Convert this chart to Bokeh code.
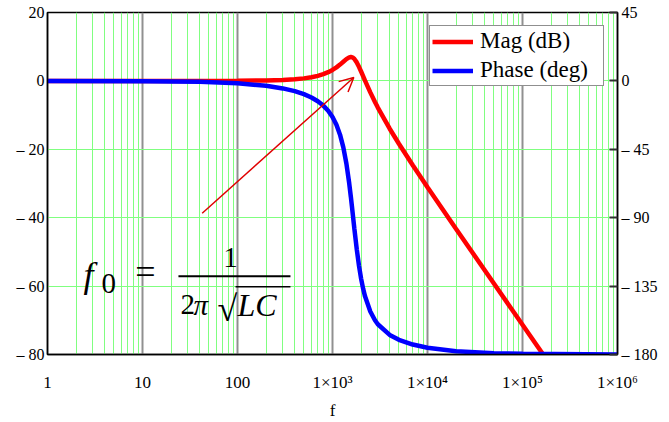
from bokeh.plotting import figure
from bokeh.models import (Range1d, LinearAxis, FixedTicker, Legend, LegendItem,
                          Label, Arrow, OpenHead)
from bokeh.embed import file_html
from bokeh.resources import INLINE

# ---------------- data ----------------
mag_freq = [1, 40, 100, 200, 300, 400, 500, 600, 700, 800, 900, 1000, 1100, 1200,
            1300, 1400, 1500, 1560, 1600, 1650, 1700, 1800, 1900, 2000, 2100, 2200,
            2500, 2800, 3000, 4000, 5000, 7000, 10000, 20000, 50000, 100000, 165000]
mag_db = [0.0, 0.0, 0.03, 0.12, 0.26, 0.47, 0.74, 1.07, 1.48, 1.97, 2.55, 3.21, 3.95, 4.77,
          5.60, 6.37, 6.88, 6.98, 6.93, 6.75, 6.41, 5.41, 4.12, 2.75, 1.38, 0.08,
          -3.35, -6.17, -7.79, -13.98, -18.38, -24.67, -31.09, -43.29, -59.25, -71.30, -80.0]

phase_freq = [1, 10, 40, 100, 200, 300, 400, 500, 600, 700, 800, 900, 1000, 1100, 1200,
              1300, 1400, 1500, 1560, 1600, 1650, 1700, 1800, 1900, 2000, 2100, 2200,
              2500, 2800, 3000, 4000, 5000, 7000, 10000, 20000, 50000, 100000, 1000000]
phase_deg = [0.0, -0.16, -0.64, -1.60, -3.24, -4.94, -6.76, -8.73, -10.91, -13.39, -16.25,
             -19.66, -23.78, -28.89, -35.37, -43.70, -54.34, -67.46, -76.29, -82.38, -90.0,
             -97.39, -110.74, -121.61, -130.08, -136.63, -141.75, -151.72, -157.45, -160.07,
             -167.12, -170.33, -173.45, -175.54, -177.81, -179.13, -179.56, -179.96]

x_ticks = [1, 10, 100, 1000, 10000, 100000, 1000000]
x_tick_labels = ["1", "10", "100", "1×10³", "1×10⁴", "1×10⁵", "1×10⁶"]
x_minor_ticks = [m * 10 ** k for k in range(6) for m in range(2, 10)]
y_ticks = [20, 0, -20, -40, -60, -80]
y_tick_labels = ["20", "0", "– 20", "– 40", "– 60", "– 80"]
phase_ticks = [45, 0, -45, -90, -135, -180]
phase_tick_labels = ["45", "0", "– 45", "– 90", "– 135", "– 180"]
legend_labels = ["Mag (dB)", "Phase (deg)"]

# annotation positions (data coordinates)
arrow_start = (42.5, -38.7)
arrow_end = (1675, 1.0)

FONT = "Liberation Serif"
GREEN = "#80ff80"

p = figure(width=669, height=422, x_axis_type="log", x_range=(1, 1e6), y_range=(-80, 20),
           output_backend="svg", toolbar_location=None,
           min_border_left=47, min_border_right=52, min_border_top=12, min_border_bottom=68,
           background_fill_color="white", border_fill_color="white")
p.outline_line_color = "black"
p.outline_line_width = 1.5

# left axis
ly = p.yaxis[0]
ly.ticker = FixedTicker(ticks=y_ticks)
ly.major_label_overrides = dict(zip(y_ticks, y_tick_labels))
ly.major_tick_in = 0
ly.major_tick_out = 0
ly.minor_tick_in = 0
ly.minor_tick_out = 0
ly.major_label_standoff = 3
ly.axis_line_color = "black"
ly.axis_line_width = 1.5
ly.major_label_text_font = FONT
ly.major_label_text_font_size = "16px"
ly.major_label_text_color = "black"

# bottom axis
bx = p.xaxis[0]
bx.ticker = FixedTicker(ticks=x_ticks, minor_ticks=x_minor_ticks)
bx.major_label_overrides = dict(zip(x_ticks, x_tick_labels))
bx.major_tick_in = 0
bx.major_tick_out = 0
bx.minor_tick_in = 0
bx.minor_tick_out = 0
bx.major_label_standoff = 18
bx.axis_line_color = "black"
bx.axis_line_width = 1.5
bx.major_label_text_font = FONT
bx.major_label_text_font_size = "17px"
bx.major_label_text_color = "black"
bx.axis_label = "f"
bx.axis_label_text_font = FONT
bx.axis_label_text_font_style = "normal"
bx.axis_label_text_font_size = "17px"
bx.axis_label_standoff = 6
bx.axis_label_text_color = "black"

# grids
p.xgrid.grid_line_color = "#909090"
p.xgrid.grid_line_width = 2
p.xgrid.minor_grid_line_color = GREEN
p.xgrid.minor_grid_line_width = 1
p.ygrid.grid_line_color = GREEN
p.ygrid.grid_line_width = 1

# right axis (phase)
p.extra_y_ranges = {"phase": Range1d(-180, 45)}
ry = LinearAxis(y_range_name="phase")
ry.ticker = FixedTicker(ticks=phase_ticks)
ry.major_label_overrides = dict(zip(phase_ticks, phase_tick_labels))
ry.major_tick_in = 8
ry.major_tick_out = 0
ry.major_tick_line_width = 2
ry.major_tick_line_color = "#303030"
ry.minor_tick_in = 0
ry.minor_tick_out = 0
ry.major_label_standoff = 4
ry.axis_line_color = "black"
ry.axis_line_width = 1.5
ry.major_label_text_font = FONT
ry.major_label_text_font_size = "16px"
ry.major_label_text_color = "black"
p.add_layout(ry, "right")

# curves
r_mag = p.line(mag_freq, mag_db, line_color="#ff0000", line_width=4.5)
r_ph = p.line(phase_freq, phase_deg, y_range_name="phase", line_color="#0000ff", line_width=4.5)

legend = Legend(items=[LegendItem(label=legend_labels[0], renderers=[r_mag]),
                       LegendItem(label=legend_labels[1], renderers=[r_ph])],
                location="top_right", margin=13, padding=2, spacing=3,
                label_height=25, glyph_height=25, glyph_width=41, label_standoff=7,
                label_width=121,
                label_text_font=FONT, label_text_font_size="23px", label_text_color="black",
                border_line_color="#202020", border_line_width=1.5,
                background_fill_color="white", background_fill_alpha=1.0)
p.add_layout(legend)

# arrow annotation
p.add_layout(Arrow(x_start=arrow_start[0], y_start=arrow_start[1],
                   x_end=arrow_end[0], y_end=arrow_end[1],
                   line_color="#e00000", line_width=1.5,
                   end=OpenHead(size=14, line_color="#e00000", line_width=1.5)))

# formula f0 = 1 / (2 pi sqrt(LC))
def lab(x, y, text, size, style="normal", align="left"):
    p.add_layout(Label(x=x, y=y, text=text, text_font=FONT, text_font_size=size,
                       text_font_style=style, text_align=align,
                       text_baseline="alphabetic", text_color="black"))

lab(2.4, -56.7, "f", "36px", "italic")
lab(3.7, -59.2, "0", "29px")
lab(10.75, -56.0, "=", "36px", align="center")
lab(84.4, -51.65, "1", "29px", align="center")
lab(25.1, -65.5, "2", "29px")
lab(34.4, -65.5, "π", "29px", "italic")
lab(61.6, -66.55, "√", "36px")
lab(100, -65.4, "LC", "32px", "italic")
p.add_layout(Arrow(x_start=23.9, y_start=-57.1, x_end=361, y_end=-57.1, start=None, end=None,
                   line_color="black", line_width=2))
p.add_layout(Arrow(x_start=95.3, y_start=-60.2, x_end=361, y_end=-60.2, start=None, end=None,
                   line_color="black", line_width=1.5))

open("out.html", "w").write(file_html(p, INLINE))
